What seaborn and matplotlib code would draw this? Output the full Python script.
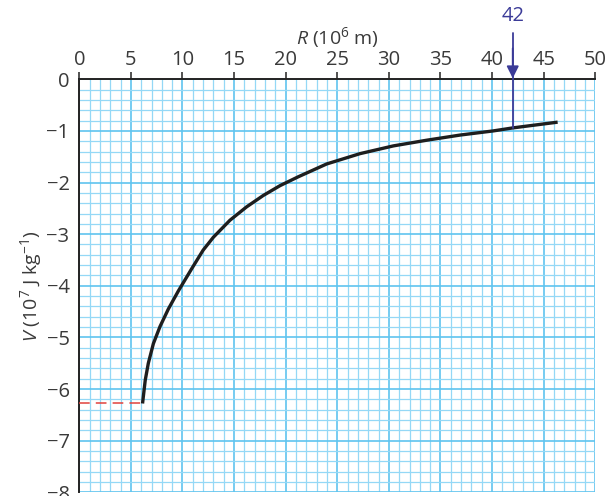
import matplotlib
matplotlib.use('Agg')
import matplotlib.pyplot as plt
import seaborn as sns
import pandas as pd
from matplotlib.ticker import MultipleLocator

# ── Data ──────────────────────────────────────────────────────────────────
R_VALUES = [6.13, 6.39, 6.69, 7.18, 7.82, 8.63, 9.6, 10.89, 12.0, 12.99, 14.6,
            16.22, 17.83, 19.45, 21.2, 23.97, 27.2, 30.43, 33.66, 36.9, 40.1,
            42.05, 46.35]
V_VALUES = [-6.28, -5.83, -5.50, -5.12, -4.79, -4.45, -4.10, -3.67, -3.31, -3.06, -2.73,
            -2.47, -2.25, -2.06, -1.89, -1.64, -1.44, -1.29, -1.18, -1.08, -1.00,
            -0.94, -0.83]
R_SURFACE = 6.13
V_SURFACE = -6.28
R_MARK = 42
V_MARK = -0.94
X_TICKS = [0, 5, 10, 15, 20, 25, 30, 35, 40, 45, 50]
Y_TICKS = [0, -1, -2, -3, -4, -5, -6, -7, -8]

df = pd.DataFrame({'R': R_VALUES, 'V': V_VALUES})

sns.set_style('white')
plt.rcParams['font.family'] = ['Open Sans', 'DejaVu Sans']
plt.rcParams['mathtext.fontset'] = 'custom'
plt.rcParams['mathtext.rm'] = 'Open Sans'
plt.rcParams['mathtext.it'] = 'Open Sans:italic'

TEXT = '#3a3a3a'
BLUE = '#3b3b98'
fig = plt.figure(figsize=(6.16, 4.96), dpi=100)
ax = fig.add_axes([0.1287, 0.0075, 0.8377, 0.8326])

# grid paper
ax.xaxis.set_major_locator(MultipleLocator(5))
ax.xaxis.set_minor_locator(MultipleLocator(1))
ax.yaxis.set_major_locator(MultipleLocator(1))
ax.yaxis.set_minor_locator(MultipleLocator(0.2))
ax.grid(which='minor', color='#94d8f6', lw=0.9)
ax.grid(which='major', color='#5fc4ef', lw=1.2)
ax.set_axisbelow(True)

sns.lineplot(data=df, x='R', y='V', ax=ax, color='#1e1e1e', lw=2.4, sort=False,
             zorder=4, solid_joinstyle='round', solid_capstyle='butt')

# surface value guide
ax.plot([0, R_SURFACE], [V_SURFACE, V_SURFACE], color='#e0413c', lw=1.1,
        dashes=(7, 4), zorder=3)

# marker arrow at R = 42
ax.plot([R_MARK, R_MARK], [V_MARK, 0.9], color=BLUE, lw=1.3, zorder=5, clip_on=False)
ax.annotate('', xy=(R_MARK, 0.02), xytext=(R_MARK, 0.6),
            arrowprops=dict(arrowstyle='-|>', color=BLUE, lw=1.3,
                            mutation_scale=18, shrinkA=0, shrinkB=0),
            annotation_clip=False, zorder=6)
ax.text(R_MARK, 1.03, str(R_MARK), color=BLUE, fontsize=14.5,
        ha='center', va='bottom', clip_on=False)

ax.set_xlim(0, 50)
ax.set_ylim(-8, 0)
ax.set_xticks(X_TICKS)
ax.set_yticks(Y_TICKS)
ax.xaxis.tick_top()
ax.xaxis.set_label_position('top')
ax.tick_params(axis='both', which='major', direction='out', length=5, width=1.1,
               color='#222222', labelsize=14.5, labelcolor=TEXT, pad=2)
ax.tick_params(axis='both', which='minor', length=0)
ax.tick_params(axis='x', which='major', top=True, bottom=False)

for side in ['bottom', 'right']:
    ax.spines[side].set_visible(False)
for side in ['top', 'left']:
    ax.spines[side].set_color('#222222')
    ax.spines[side].set_linewidth(1.4)

ax.set_xlabel(r'$R$ (10$^{6}$ m)', fontsize=14, color=TEXT, labelpad=4)
ax.set_ylabel(r'$V$ (10$^{7}$ J kg$^{-1}$)', fontsize=14, color=TEXT, labelpad=2)

plt.savefig('out.png', dpi=100)
plt.close()
